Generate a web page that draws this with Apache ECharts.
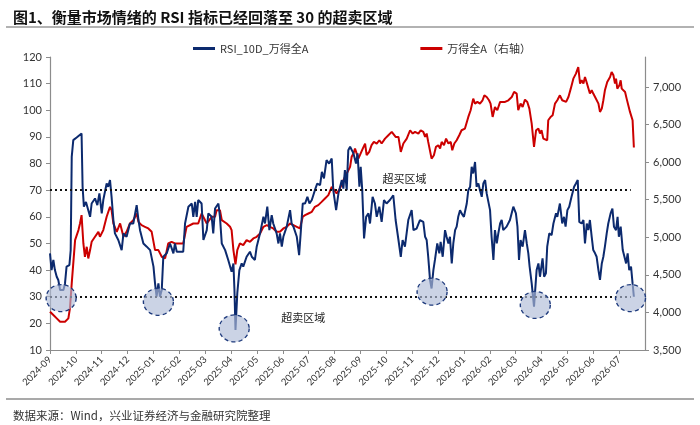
<!DOCTYPE html>
<html><head><meta charset="utf-8">
<script src="https://cdn.jsdelivr.net/npm/echarts@6/dist/echarts.min.js"></script>
<style>html,body{margin:0;padding:0;background:#fff}#c{width:700px;height:425px}</style>
</head><body><div id="c"></div>
<script>
// x = months since 2024-09 (0 = 2024-09 tick)
const monthLabels = ['2024-09','2024-10','2024-11','2024-12','2025-01','2025-02','2025-03','2025-04','2025-05','2025-06','2025-07','2025-08','2025-09','2025-10','2025-11','2025-12','2026-01','2026-02','2026-03','2026-04','2026-05','2026-06','2026-07'];
const leftTicks = [10,20,30,40,50,60,70,80,90,100,110,120];
const rightTicks = [3500,4000,4500,5000,5500,6000,6500,7000];
const overbought = 70, oversold = 30;
const rsiName = 'RSI_10D_万得全A';
const idxName = '万得全A（右轴）';

const rsi10d = [
[0.00,46.3],[0.06,40],[0.13,43.8],[0.19,40],[0.26,37.5],[0.32,36.3],[0.39,32.5],[0.52,32.5],[0.58,35],[0.64,41.3],[0.75,41.9],[0.80,47.5],
[0.84,82.5],[0.90,88.8],[1.03,89.8],[1.22,91.3],[1.26,71.3],[1.31,63.8],[1.39,65.6],[1.48,62.5],[1.55,60],[1.61,65],[1.74,66.9],[1.83,64.4],
[1.91,68.8],[2.00,61.3],[2.06,66.3],[2.19,72.5],[2.25,71.3],[2.32,73.8],[2.38,67.5],[2.45,58.8],[2.51,53.8],[2.64,51.3],[2.77,47.5],[2.84,53.8],
[2.96,52.5],[3.09,57.5],[3.22,57.5],[3.35,64.4],[3.42,58.8],[3.48,55],[3.61,50],[3.74,48.8],[3.87,47.5],[4.00,41.3],[4.06,35],[4.12,30],
[4.19,35],[4.25,30],[4.32,32.5],[4.38,45],[4.51,46.3],[4.64,50],[4.77,46.3],[4.83,50],[4.90,46.9],[5.15,46.9],[5.22,57.5],[5.35,63.8],
[5.48,65],[5.54,60],[5.61,65.6],[5.67,60],[5.73,66.3],[5.86,65],[5.93,51.3],[6.06,55],[6.12,61.3],[6.25,60],[6.31,53.8],[6.38,63.1],
[6.51,65],[6.57,60],[6.64,50],[6.77,47.5],[6.89,43.8],[7.02,39.4],[7.09,42.5],[7.13,32.5],[7.17,17.5],[7.24,31.3],[7.32,40],[7.41,42.5],
[7.47,41.3],[7.60,45],[7.73,46.9],[7.80,45],[7.92,43.8],[7.99,48.8],[8.12,53.8],[8.25,60],[8.31,57.5],[8.40,63.8],[8.48,55],[8.57,60.6],
[8.63,57.5],[8.76,53.8],[8.83,50],[8.89,53.8],[8.96,48.8],[9.02,52.5],[9.15,56.3],[9.28,62.5],[9.34,57.5],[9.41,56.3],[9.54,52.5],[9.63,45.6],
[9.69,53.8],[9.77,65],[9.86,65],[9.95,67.5],[10.03,65],[10.12,66.3],[10.24,70],[10.33,72.5],[10.44,71.9],[10.51,76.9],[10.59,74.4],[10.69,81.3],
[10.79,80],[10.89,81.9],[10.95,70],[11.06,62.5],[11.15,68.8],[11.28,73.8],[11.34,70.6],[11.40,77.5],[11.47,70],[11.53,85],[11.60,86.3],[11.73,83.8],
[11.83,80],[11.89,83.8],[11.96,71.3],[12.01,78.8],[12.07,70],[12.14,51.9],[12.22,60],[12.31,61.3],[12.37,57.5],[12.47,67.5],[12.56,65],[12.63,60],
[12.73,63.8],[12.82,58.1],[12.91,66.3],[13.01,65],[13.14,66.3],[13.27,68.1],[13.36,58.8],[13.47,51.3],[13.56,45],[13.63,51.3],[13.72,48.8],[13.85,58.8],
[13.98,62.5],[14.05,55],[14.17,55.6],[14.30,58.8],[14.43,58.1],[14.50,52.5],[14.56,51.3],[14.62,45],[14.69,36.3],[14.75,33.1],[14.82,40],[14.88,43.8],
[14.97,50],[15.05,46.3],[15.10,50.6],[15.18,45],[15.27,55],[15.33,52.5],[15.40,50],[15.46,52.5],[15.53,42.5],[15.59,50],[15.66,55],[15.72,56.3],
[15.78,60],[15.85,62.5],[15.91,61.3],[16.00,60],[16.11,65],[16.17,70],[16.24,71.3],[16.30,78.8],[16.36,76.3],[16.43,80.6],[16.49,71.3],[16.56,72.5],
[16.62,70],[16.69,67.5],[16.75,72.5],[16.82,73.8],[16.88,68.8],[16.94,68.8],[17.01,62.5],[17.07,52.5],[17.14,43.8],[17.20,55],[17.27,50],[17.33,53.8],
[17.40,57.5],[17.46,58.8],[17.52,55],[17.65,56.3],[17.78,58.8],[17.91,63.8],[18.01,61.3],[18.07,56.3],[18.13,43.8],[18.19,51.3],[18.27,48.8],[18.36,55],
[18.43,50],[18.49,46.3],[18.54,41.3],[18.62,35],[18.71,26.3],[18.81,40],[18.88,42.5],[18.94,37.5],[19.04,44.4],[19.10,37.5],[19.17,38.8],[19.22,48.8],
[19.30,53.8],[19.39,53.1],[19.46,57.5],[19.56,61.3],[19.61,60],[19.71,65],[19.80,57.5],[19.87,60],[19.93,56.3],[20.00,62.5],[20.07,63.8],[20.16,67.5],
[20.26,71.3],[20.33,72.5],[20.40,73.8],[20.46,58.1],[20.55,57.5],[20.62,58.8],[20.68,50],[20.75,57.5],[20.81,55],[20.87,58.8],[20.94,52.5],[21.00,47.5],
[21.07,46.3],[21.13,45],[21.20,40],[21.26,36.3],[21.33,42.5],[21.39,45],[21.45,48.8],[21.52,53.8],[21.58,57.5],[21.67,61.3],[21.74,63.1],[21.80,56.3],
[21.88,55],[21.94,60],[21.99,52.5],[22.06,56.3],[22.14,47.5],[22.20,47.5],[22.27,42.5],[22.33,46.3],[22.39,40],[22.46,41.3],[22.52,35],[22.57,30]
];

const windA = [
[0.00,4010],[0.13,3965],[0.26,3921],[0.39,3877],[0.58,3877],[0.71,3921],[0.77,4054],[0.84,4386],[0.97,4963],[1.10,5096],[1.16,5184],[1.22,5295],
[1.29,4918],[1.35,4741],[1.42,4874],[1.48,4719],[1.55,4830],[1.61,4940],[1.74,5007],[1.87,5073],[1.93,5007],[2.06,5096],[2.19,5273],[2.32,5406],
[2.38,5361],[2.45,5184],[2.58,5073],[2.71,5184],[2.84,5007],[2.96,5073],[3.09,5184],[3.22,5228],[3.35,5317],[3.42,5206],[3.54,5162],[3.67,5140],
[3.80,5118],[3.93,5073],[4.06,4830],[4.19,4830],[4.32,4741],[4.45,4719],[4.57,4918],[4.70,4940],[4.83,4918],[5.15,4918],[5.28,5140],[5.54,5184],
[5.73,5184],[5.86,5317],[6.06,5184],[6.25,5273],[6.38,5273],[6.44,5361],[6.57,5361],[6.64,5228],[6.83,5184],[6.96,5140],[7.02,5096],[7.09,4830],
[7.17,4640],[7.24,4830],[7.34,4918],[7.47,4896],[7.60,4963],[7.73,4940],[7.86,4985],[7.99,5007],[8.12,5051],[8.25,5140],[8.38,5162],[8.50,5140],
[8.63,5118],[8.76,5073],[8.89,5073],[9.02,5118],[9.15,5140],[9.28,5184],[9.41,5162],[9.54,5140],[9.66,5118],[9.77,5273],[9.86,5295],[9.99,5317],
[10.12,5339],[10.24,5406],[10.37,5428],[10.50,5472],[10.63,5517],[10.76,5561],[10.89,5672],[10.95,5650],[11.08,5583],[11.21,5650],[11.34,5760],[11.47,5849],
[11.60,5938],[11.66,6071],[11.73,6115],[11.79,6181],[11.85,6159],[11.92,6048],[11.98,6093],[12.09,6181],[12.18,6248],[12.24,6093],[12.34,6137],[12.43,6226],
[12.52,6270],[12.63,6248],[12.73,6292],[12.82,6248],[12.95,6314],[13.08,6359],[13.21,6403],[13.27,6425],[13.36,6336],[13.47,6336],[13.56,6137],[13.66,6248],
[13.79,6314],[13.92,6425],[14.02,6381],[14.11,6403],[14.24,6381],[14.33,6425],[14.43,6403],[14.50,6336],[14.56,6381],[14.62,6270],[14.69,6248],[14.75,6048],
[14.84,6093],[14.92,6204],[15.01,6226],[15.08,6181],[15.14,6270],[15.23,6226],[15.31,6314],[15.40,6248],[15.49,6270],[15.55,6159],[15.63,6248],[15.72,6292],
[15.82,6359],[15.91,6425],[16.04,6447],[16.17,6602],[16.26,6691],[16.36,6846],[16.43,6780],[16.52,6802],[16.62,6780],[16.72,6824],[16.79,6890],[16.88,6868],
[16.97,6824],[17.03,6780],[17.11,6602],[17.20,6735],[17.29,6691],[17.40,6802],[17.46,6780],[17.59,6802],[17.72,6824],[17.85,6868],[17.94,6935],[18.04,6913],
[18.10,6691],[18.19,6780],[18.27,6735],[18.36,6833],[18.45,6802],[18.53,6713],[18.62,6514],[18.71,6204],[18.79,6425],[18.88,6447],[18.94,6381],[19.00,6425],
[19.07,6314],[19.13,6336],[19.22,6292],[19.26,6558],[19.35,6602],[19.43,6625],[19.52,6780],[19.61,6824],[19.71,6890],[19.80,6824],[19.87,6846],[19.95,6802],
[20.04,6868],[20.13,6979],[20.23,7112],[20.33,7179],[20.42,7267],[20.49,7046],[20.55,7090],[20.62,7046],[20.68,7134],[20.74,7068],[20.81,7090],[20.87,6913],
[20.94,6957],[21.00,6913],[21.07,6868],[21.13,6846],[21.20,6780],[21.26,6669],[21.33,6713],[21.39,6824],[21.45,6957],[21.54,7068],[21.65,7134],[21.71,7201],
[21.78,7156],[21.84,7046],[21.88,7112],[21.93,6979],[22.01,7024],[22.06,7090],[22.10,6979],[22.16,6957],[22.23,6935],[22.29,6846],[22.36,6868],[22.42,6669],
[22.48,6647],[22.52,6558],[22.57,6195]
];

// oversold highlight circles: [month, RSI]
const oversoldSpots = [[0.43,29.5],[4.19,28.1],[7.12,18.1],[14.77,31.9],[18.76,26.9],[22.44,29.5]];
const zoneLabels = [['超买区域',13.7,74.2],['超卖区域',9.79,22]];
const zoneLineEnd = 22.45;

const font = "Lato, 'Noto Sans CJK SC', sans-serif";
const cjk = "'Noto Sans CJK SC', sans-serif";
const chart = echarts.init(document.getElementById('c'));
chart.setOption({
  animation:false,
  backgroundColor:'#fff',
  title:[
    {text:'图1、衡量市场情绪的 RSI 指标已经回落至 30 的超卖区域', left:8, top:5,
     textStyle:{fontFamily:cjk, fontSize:15, fontWeight:'bold', color:'#111'}},
    {text:'数据来源：Wind，兴业证券经济与金融研究院整理', left:8, top:405,
     textStyle:{fontFamily:cjk, fontSize:11.5, fontWeight:'normal', color:'#333'}}
  ],
  graphic:[
    {type:'line', shape:{x1:6,y1:27,x2:694,y2:27}, style:{stroke:'#666', lineWidth:1.2}},
    {type:'line', shape:{x1:6,y1:399,x2:694,y2:399}, style:{stroke:'#555', lineWidth:1.2}}
  ],
  legend:{
    left:188, top:38, itemWidth:22, itemHeight:3, itemGap:112, icon:'rect',
    textStyle:{fontFamily:cjk, fontSize:11, color:'#333'},
    data:[rsiName, idxName]
  },
  grid:{left:50, right:55, top:57, bottom:75},
  xAxis:{
    type:'value', min:0, max:23, interval:1,
    axisLine:{lineStyle:{color:'#8c8c8c', width:1.2}},
    axisTick:{show:true, length:4, lineStyle:{color:'#8c8c8c'}},
    splitLine:{show:false},
    axisLabel:{rotate:45, fontFamily:font, fontSize:9.5, color:'#333', margin:8,
      showMaxLabel:false, formatter:v=>monthLabels[Math.round(v)]||''}
  },
  yAxis:[
    {type:'value', min:leftTicks[0], max:leftTicks[leftTicks.length-1], interval:10,
     axisLine:{show:true, lineStyle:{color:'#8c8c8c', width:1.2}},
     axisTick:{show:true, length:4, lineStyle:{color:'#8c8c8c'}},
     splitLine:{show:false},
     axisLabel:{fontFamily:font, fontSize:11, color:'#333', margin:8}},
    {type:'value', min:rightTicks[0], max:7400, interval:500,
     axisLine:{show:true, lineStyle:{color:'#8c8c8c', width:1.2}},
     axisTick:{show:true, length:4, lineStyle:{color:'#8c8c8c'}},
     splitLine:{show:false},
     axisLabel:{fontFamily:font, fontSize:11, color:'#333', margin:8, showMaxLabel:false,
       formatter:v=>rightTicks.includes(v)?v.toLocaleString('en-US'):''}}
  ],
  series:[
    {name:rsiName, type:'line', yAxisIndex:0, data:rsi10d, showSymbol:false, symbol:'none',
     lineStyle:{color:'#0c2a6e', width:2}, itemStyle:{color:'#0c2a6e'}, z:3,
     markLine:{silent:true, symbol:'none', label:{show:false},
       lineStyle:{type:[2,3], color:'#111', width:2},
       data:[[{coord:[0,overbought]},{coord:[zoneLineEnd,overbought]}],
             [{coord:[0,oversold]},{coord:[zoneLineEnd,oversold]}]]},
     markPoint:{silent:true,
       data: oversoldSpots.map(p=>({coord:p, symbol:'circle', symbolSize:[30,27],
          itemStyle:{color:'rgba(175,188,215,0.65)', borderColor:'#1e3a7c', borderWidth:1.3, borderType:[4,3]},
          label:{show:false}}))
        .concat(zoneLabels.map(z=>({coord:[z[1],z[2]], symbol:'rect', symbolSize:1,
          itemStyle:{color:'rgba(0,0,0,0)'},
          label:{show:true, position:'inside', formatter:z[0], fontFamily:cjk, fontSize:11, color:'#222'}})))
     }},
    {name:idxName, type:'line', yAxisIndex:1, data:windA, showSymbol:false, symbol:'none',
     lineStyle:{color:'#cc0000', width:2}, itemStyle:{color:'#cc0000'}, z:2}
  ]
});
</script></body></html>
